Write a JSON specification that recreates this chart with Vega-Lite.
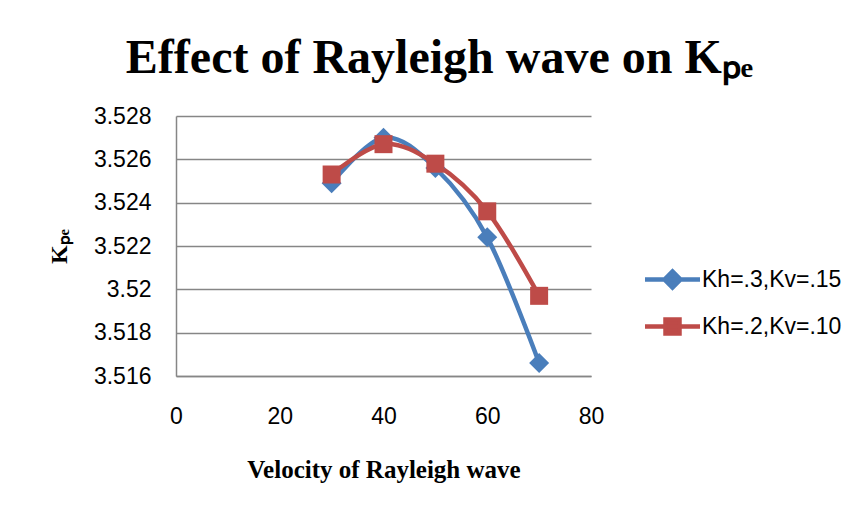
{
  "$schema": "https://vega.github.io/schema/vega-lite/v6.json",
  "width": 415,
  "height": 260,
  "autosize": {"type": "none"},
  "padding": {"left": 176, "top": 116, "right": 270, "bottom": 134},
  "background": "white",
  "config": {"view": {"stroke": null}},
  "title": {
    "text": "Effect of Rayleigh wave on Kₚₑ",
    "font": "Liberation Serif",
    "fontSize": 48,
    "fontWeight": "bold",
    "color": "black",
    "anchor": "middle",
    "frame": "group",
    "dx": 56,
    "dy": 48,
    "baseline": "alphabetic",
    "offset": 32
  },
  "data": {
    "values": [
      {"velocity": 30, "kpe": 3.5249, "series": "Kh=.3,Kv=.15"},
      {"velocity": 40, "kpe": 3.5270, "series": "Kh=.3,Kv=.15"},
      {"velocity": 50, "kpe": 3.5256, "series": "Kh=.3,Kv=.15"},
      {"velocity": 60, "kpe": 3.5224, "series": "Kh=.3,Kv=.15"},
      {"velocity": 70, "kpe": 3.5166, "series": "Kh=.3,Kv=.15"},
      {"velocity": 30, "kpe": 3.5253, "series": "Kh=.2,Kv=.10"},
      {"velocity": 40, "kpe": 3.5267, "series": "Kh=.2,Kv=.10"},
      {"velocity": 50, "kpe": 3.5258, "series": "Kh=.2,Kv=.10"},
      {"velocity": 60, "kpe": 3.5236, "series": "Kh=.2,Kv=.10"},
      {"velocity": 70, "kpe": 3.5197, "series": "Kh=.2,Kv=.10"}
    ]
  },
  "encoding": {
    "x": {
      "field": "velocity",
      "type": "quantitative",
      "scale": {"domain": [0, 80], "nice": false},
      "axis": {
        "title": "Velocity of Rayleigh wave",
        "values": [0, 20, 40, 60, 80],
        "grid": false,
        "ticks": false,
        "domainColor": "#868686",
        "domainWidth": 1.5,
        "labelFont": "Liberation Sans",
        "labelFontSize": 23,
        "labelColor": "black",
        "labelPadding": 29,
        "labelFlush": false,
        "titleFont": "Liberation Serif",
        "titleFontSize": 25,
        "titleFontWeight": "bold",
        "titleColor": "black",
        "titlePadding": 29
      }
    },
    "y": {
      "field": "kpe",
      "type": "quantitative",
      "scale": {"domain": [3.516, 3.528], "zero": false, "nice": false},
      "axis": {
        "title": "Kₚₑ",
        "values": [3.516, 3.518, 3.52, 3.522, 3.524, 3.526, 3.528],
        "labelExpr": "format(datum.value, '.3~f')",
        "grid": true,
        "gridColor": "#868686",
        "gridWidth": 1.5,
        "ticks": false,
        "domainColor": "#868686",
        "domainWidth": 1.5,
        "labelFont": "Liberation Sans",
        "labelFontSize": 23,
        "labelColor": "black",
        "labelPadding": 25,
        "labelFlush": false,
        "titleFont": "Liberation Serif",
        "titleFontSize": 24,
        "titleFontWeight": "bold",
        "titleColor": "black",
        "titlePadding": 22
      }
    },
    "color": {
      "field": "series",
      "type": "nominal",
      "scale": {"domain": ["Kh=.3,Kv=.15", "Kh=.2,Kv=.10"], "range": ["#4A7EBB", "#BE4B48"]},
      "legend": {
        "title": null,
        "orient": "none",
        "legendX": 467,
        "legendY": 151,
        "padding": 0,
        "symbolSize": 400,
        "symbolOffset": 17,
        "labelOffset": 17,
        "rowPadding": 13,
        "labelFont": "Liberation Sans",
        "labelFontSize": 23,
        "labelColor": "black",
        "labelLimit": 300,
        "encode": {
          "symbols": {
            "update": {
              "shape": {"signal": "datum.value === 'Kh=.3,Kv=.15' ? 'M-2.75,0H2.75M-0.8,0L0,-0.8L0.8,0L0,0.8Z' : 'M-2.75,0H2.75M-0.7,-0.7H0.7V0.7H-0.7Z'"},
              "fill": {"scale": "color", "field": "value"},
              "stroke": {"scale": "color", "field": "value"},
              "strokeWidth": {"value": 4.5},
              "opacity": {"value": 1}
            }
          }
        }
      }
    }
  },
  "layer": [
    {
      "mark": {"type": "line", "interpolate": "cardinal", "strokeWidth": 4.5}
    },
    {
      "transform": [{"filter": "datum.series === 'Kh=.3,Kv=.15'"}],
      "mark": {"type": "point", "filled": true, "opacity": 1, "shape": "diamond", "size": 400}
    },
    {
      "transform": [{"filter": "datum.series === 'Kh=.2,Kv=.10'"}],
      "mark": {"type": "point", "filled": true, "opacity": 1, "shape": "square", "size": 324}
    }
  ]
}
